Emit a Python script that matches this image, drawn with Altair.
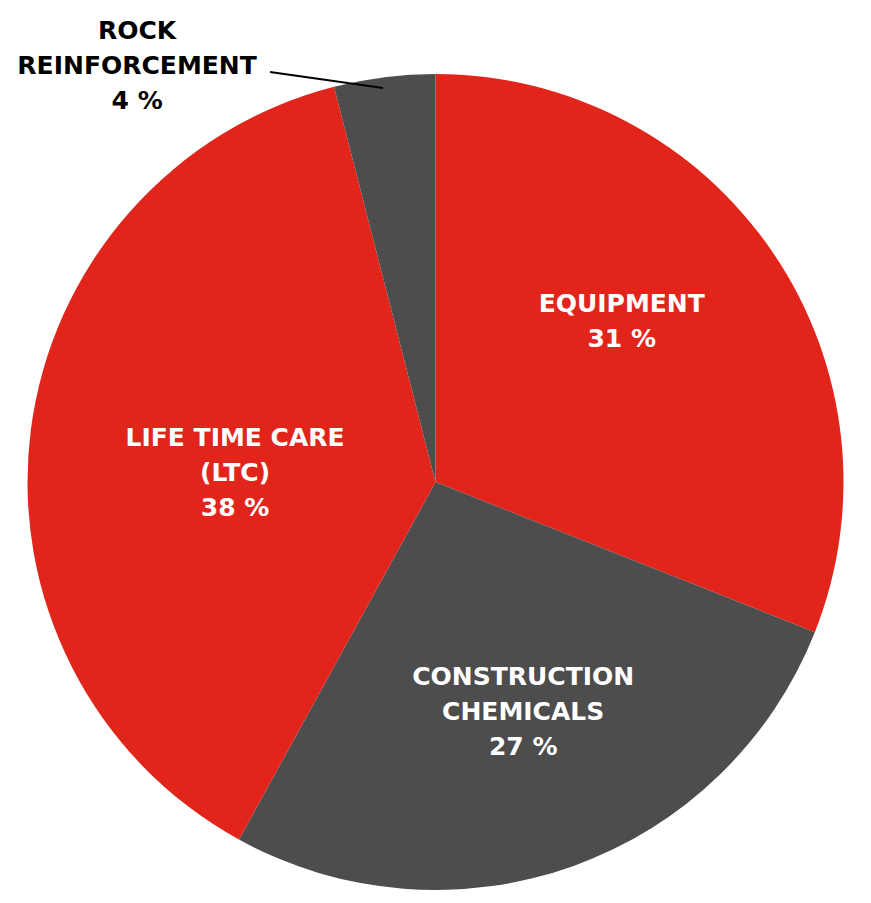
import altair as alt
import pandas as pd

categories = ["EQUIPMENT", "CONSTRUCTION CHEMICALS", "LIFE TIME CARE (LTC)", "ROCK REINFORCEMENT"]
label_lines = ["EQUIPMENT\n31 %", "CONSTRUCTION\nCHEMICALS\n27 %", "LIFE TIME CARE\n(LTC)\n38 %", "ROCK\nREINFORCEMENT\n4 %"]
values = [31, 27, 38, 4]
colors = ["#E1251B", "#4D4D4D", "#E1251B", "#4D4D4D"]

df = pd.DataFrame({
    "category": categories,
    "label": label_lines,
    "value": values,
    "order": list(range(len(values))),
})

W, H = 871, 842
FONT = "DejaVu Sans"

theta_scale = alt.Scale(domain=[0, 100])

base = alt.Chart(df).transform_window(
    cum="sum(value)", sort=[alt.SortField("order")], frame=[None, 0]
).transform_calculate(mid="datum.cum - datum.value / 2")

arcs = alt.Chart(df).mark_arc(outerRadius=408).encode(
    theta=alt.Theta("value:Q", stack=True, scale=theta_scale),
    color=alt.Color("category:N", scale=alt.Scale(domain=categories, range=colors), legend=None),
    order=alt.Order("order:Q"),
)

def label(cat, radius, dx=0, dy=0, color="white"):
    return base.transform_filter(alt.datum.category == cat).mark_text(
        radius=radius, dx=dx, dy=dy, font=FONT, fontWeight="bold", fontSize=25,
        lineBreak="\n", lineHeight=35, align="center", baseline="middle", color=color,
    ).encode(
        theta=alt.Theta("mid:Q", stack=None, scale=theta_scale),
        text="label:N",
    )

l1 = label("EQUIPMENT", 230, dx=-4, dy=-49)
l2 = label("CONSTRUCTION CHEMICALS", 244, dx=5, dy=-35)
l3 = label("LIFE TIME CARE (LTC)", 200, dx=-2, dy=-19)
l4 = label("ROCK REINFORCEMENT", 418, dx=-246, dy=-36, color="black")

leader = alt.Chart(df).mark_rule(color="black", strokeWidth=2).encode(
    x=alt.value(270), x2=alt.value(383), y=alt.value(72 - 61), y2=alt.value(88 - 61)
).transform_filter(alt.datum.category == "ROCK REINFORCEMENT")

chart = alt.layer(arcs, leader, l1, l2, l3, l4).properties(
    width=W, height=H,
    autosize=alt.AutoSizeParams(type="none"),
    padding={"top": 61, "left": 0, "right": 0, "bottom": 0},
    view=alt.ViewBackground(stroke="transparent", strokeWidth=0),
).configure_view(stroke="transparent", strokeWidth=0).configure(background="white")

chart.save("out.html", embed_options={"renderer": "svg", "actions": False})
